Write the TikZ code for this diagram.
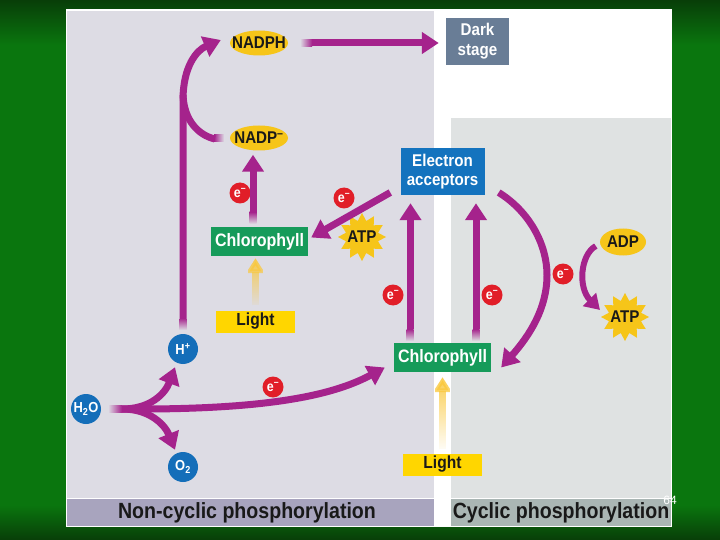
\documentclass[tikz,border=0pt]{standalone}
\usepackage{fontspec}
\setmainfont{Liberation Sans}[FakeStretch=0.89]
\newfontfamily\plainsans{Liberation Sans}
\usetikzlibrary{arrows.meta,shapes.geometric,fadings}
\definecolor{gdark}{RGB}{8,62,8}
\definecolor{gmid}{RGB}{10,118,14}
\definecolor{lav}{RGB}{221,220,228}
\definecolor{rgrey}{RGB}{223,226,226}
\definecolor{lbar}{RGB}{168,164,190}
\definecolor{rbar}{RGB}{170,182,180}
\definecolor{pur}{RGB}{165,35,140}
\definecolor{yel}{RGB}{246,197,25}
\definecolor{lyel}{RGB}{255,214,0}
\definecolor{ayel}{RGB}{250,200,60}
\definecolor{grn}{RGB}{22,155,90}
\definecolor{ebox}{RGB}{20,115,190}
\definecolor{mblue}{RGB}{20,110,185}
\definecolor{ered}{RGB}{225,30,40}
\definecolor{dstage}{RGB}{105,125,150}
\definecolor{txt}{RGB}{25,25,25}
\newcommand{\fsz}[1]{\fontsize{#1}{#1}\selectfont}
\begin{document}
\begin{tikzpicture}[x=1pt,y=-1pt,
  parrow/.style={draw=pur, line width=7pt, -{Triangle[length=17pt,width=21pt]}},
  pline/.style={draw=pur, line width=7pt},
  yarrow/.style={draw=ayel, line width=7pt, -{Triangle[length=15pt,width=18pt]}},
  ovalnode/.style={ellipse, fill=yel, minimum width=58pt, minimum height=25pt, inner sep=0pt, text=txt, font=\bfseries\fsz{17}},
  chlbox/.style={rectangle, fill=grn, text=white, minimum width=97pt, minimum height=29pt, inner sep=0pt, font=\bfseries\fsz{18}},
  lightbox/.style={rectangle, fill=lyel, text=txt, minimum width=79pt, minimum height=22pt, inner sep=0pt, font=\bfseries\fsz{17.5}},
  ebubble/.style={circle, fill=ered, text=white, minimum size=21pt, inner sep=0pt, font=\bfseries\fsz{14}},
  mol/.style={circle, fill=mblue, text=white, minimum size=30pt, inner sep=0pt, font=\bfseries\fsz{14.5}},
  atpstar/.style={star, star points=12, star point ratio=1.45, fill=yel, minimum size=48pt, inner sep=0pt, text=txt, font=\bfseries\fsz{17}},
  barlabel/.style={text=txt, font=\bfseries\fsz{22}}
]
\useasboundingbox (0,0) rectangle (720,540);
% background
\fill[gmid] (0,0) rectangle (720,540);
\shade[top color=gdark, bottom color=gmid] (0,0) rectangle (720,45);
\shade[top color=gmid, bottom color=gdark] (0,505) rectangle (720,540);
\fill[white] (66,9) rectangle (672,527);
\fill[lav] (67,11) rectangle (434,498);
\fill[rgrey] (451,118) rectangle (671,498);
\fill[lbar] (67,499) rectangle (434,526);
\fill[rbar] (451,499) rectangle (671,526);

% nodes
\node[ovalnode] (nadph) at (259,43) {\makebox[0pt]{NADPH}};
\node[ovalnode] (nadp) at (259,138) {\makebox[0pt]{NADP\textsuperscript{–}}};
\node[rectangle, fill=dstage, text=white, minimum width=63pt, minimum height=47pt, inner sep=0pt, align=center, font=\bfseries\fontsize{17}{20}\selectfont] (dark) at (477.5,41.5) {Dark\\stage};
\node[rectangle, fill=ebox, text=white, minimum width=84pt, minimum height=47pt, inner sep=0pt, align=center, font=\bfseries\fontsize{17}{19.5}\selectfont] (ea) at (442.5,171.5) {Electron\\acceptors};
\node[chlbox] (chlL) at (259.5,241.5) {Chlorophyll};
\node[chlbox] (chlR) at (442.5,357.5) {Chlorophyll};
\node[lightbox] (lightL) at (255.5,321.5) {Light};
\node[lightbox] (lightR) at (442.5,464.5) {Light};
\node[mol] (hp) at (183,349) {H\textsuperscript{+}};
\node[mol] (h2o) at (86,409) {H\textsubscript{2}O};
\node[mol] (o2) at (183,467) {O\textsubscript{2}};
\node[atpstar] (atpL) at (362,237) {\makebox[0pt]{ATP}};
\node[atpstar] (atpR) at (625,317) {\makebox[0pt]{ATP}};
\node[ovalnode, minimum width=46pt, minimum height=27pt] (adp) at (623,242) {\makebox[0pt]{ADP}};
\node[ebubble] (e1) at (240,193) {e\textsuperscript{–}};
\node[ebubble] (e2) at (344,198) {e\textsuperscript{–}};
\node[ebubble] (e3) at (393,295) {e\textsuperscript{–}};
\node[ebubble] (e4) at (492,295) {e\textsuperscript{–}};
\node[ebubble] (e5) at (563,274) {e\textsuperscript{–}};
\node[ebubble] (e6) at (273,387) {e\textsuperscript{–}};

% NADPH -> Dark stage
\shade[left color=lav, right color=pur] (300,39.5) rectangle (312,46.5);
\draw[parrow, shorten <=24pt, shorten >=7pt] (nadph.east) -- (nadph.east -| dark.west);
% H+ -> NADPH
\shade[top color=pur, bottom color=lav] (179.5,318) rectangle (186.5,330);
\draw[parrow] ([yshift=16pt]hp.north) -- (183,100) .. controls (183,66) and (197,50) .. ([xshift=-9pt,yshift=3pt]nadph.west);
% NADP- joins
\shade[left color=pur, right color=lav] (214,134.5) rectangle (224,141.5);
\draw[pline] ([xshift=-15pt,yshift=-1pt]nadp.west) .. controls (198,135) and (184,120) .. (183,95);
% Chlorophyll (left) -> NADP
\shade[top color=pur, bottom color=lav] (249.5,212) rectangle (256.5,224);
\draw[parrow, shorten >=4pt] ([xshift=-6.5pt,yshift=15pt]chlL.north) -- ([xshift=-6pt]nadp.south);
% Electron acceptors -> Chlorophyll (left)
\draw[parrow] ([xshift=-10pt,yshift=-21pt]ea.west) -- ([xshift=3pt,yshift=4pt]chlL.east);
% Chlorophyll (right) -> Electron acceptors
\shade[top color=pur, bottom color=lav] (406.5,329) rectangle (413.5,341);
\shade[top color=pur, bottom color=rgrey] (472.5,329) rectangle (479.5,341);
\draw[parrow] ([xshift=-32pt,yshift=14pt]chlR.north) -- ([xshift=-32pt,yshift=-8pt]ea.south);
\draw[parrow] ([xshift=33.5pt,yshift=14pt]chlR.north) -- ([xshift=33.5pt,yshift=-8pt]ea.south);
% cyclic return
\draw[parrow] ([xshift=14pt,yshift=-21pt]ea.east) .. controls (530,212) and (547,245) .. (547,275) .. controls (547,308) and (530,335) .. ([xshift=10pt,yshift=-10pt]chlR.east);
% ADP -> ATP
\draw[parrow, line width=6pt, -{Triangle[length=15pt,width=18pt]}] ([xshift=-4pt,yshift=-4pt]adp.west) .. controls (580,255) and (578,288) .. ([xshift=-25pt,yshift=7pt]atpR.center);
% H2O splits
\shade[left color=lav, right color=pur] (108,405.5) rectangle (122,412.5);
\draw[parrow] ([xshift=21pt]h2o.east) .. controls (150,409) and (165,394) .. ([xshift=-8pt,yshift=-3pt]hp.south);
\draw[parrow] ([xshift=21pt]h2o.east) .. controls (150,409) and (165,425) .. ([xshift=-8pt,yshift=2pt]o2.north);
\draw[parrow] ([xshift=21pt]h2o.east) .. controls (260,410) and (330,397) .. ([xshift=-9pt,yshift=-10pt]chlR.west);
% light
\draw[yarrow, path fading=south, shorten >=2pt] ([yshift=5pt]lightL.north) -- (lightL.north |- chlL.south);
\draw[yarrow, path fading=south, shorten >=5pt] ([yshift=4pt]lightR.north) -- (lightR.north |- chlR.south);

% labels
\node[barlabel] (ncl) at (247,513) {Non-cyclic phosphorylation};
\node[barlabel] (cl) at (561,513) {Cyclic phosphorylation};
\node[text=white, font=\plainsans\fsz{12}] (pg) at (670,500) {64};
\end{tikzpicture}
\end{document}
